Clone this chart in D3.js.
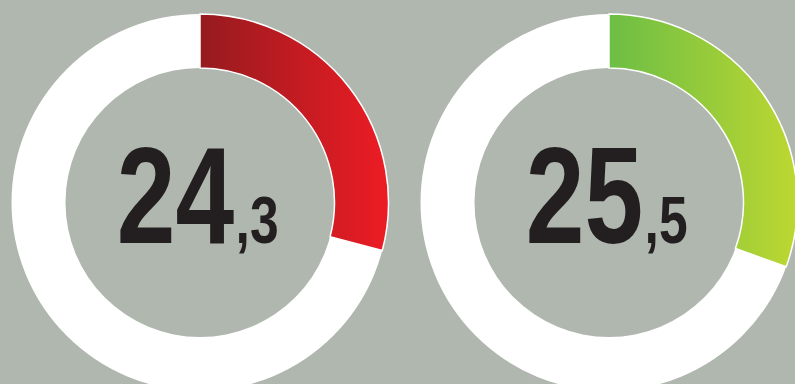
<!DOCTYPE html>
<html>
<head>
<meta charset="utf-8">
<script src="https://cdn.jsdelivr.net/npm/d3@7"></script>
<style>
  html, body { margin: 0; padding: 0; background: #b0b7af; }
  svg { display: block; }
</style>
</head>
<body>
<svg id="chart" width="795" height="384"></svg>
<script>
// values shown in the two rings
var values = [24.3, 25.5];
var intPart = ["24", "25"];
var decPart = [",3", ",5"];
var maxValue = 83.5;
var gradStart = ["#951b1f", "#6cbe45"];
var gradEnd = ["#ed1c24", "#bdd731"];

var width = 795, height = 384;
var svg = d3.select("#chart");

var centers = [200, 609];
var cy = 202.5;
var rOuter = 188.5, rInner = 134.5;

var angle = d3.scaleLinear()
    .domain([0, maxValue])
    .range([0, 2 * Math.PI]);

var arc = d3.arc()
    .innerRadius(rInner)
    .outerRadius(rOuter);

var defs = svg.append("defs");

values.forEach(function(v, i) {
    var g = svg.append("g")
        .attr("transform", "translate(" + centers[i] + "," + cy + ")");

    // gradient across the filled part
    var grad = defs.append("linearGradient")
        .attr("id", "grad" + i)
        .attr("gradientUnits", "userSpaceOnUse")
        .attr("x1", 0).attr("x2", rOuter)
        .attr("y1", 0).attr("y2", 0);
    grad.append("stop").attr("offset", "0%").attr("stop-color", gradStart[i]);
    grad.append("stop").attr("offset", "100%").attr("stop-color", gradEnd[i]);

    // white background ring
    g.append("path")
        .attr("d", arc({startAngle: 0, endAngle: 2 * Math.PI}))
        .attr("fill", "#ffffff");

    // value arc
    g.append("path")
        .attr("d", arc({startAngle: 0, endAngle: angle(v)}))
        .attr("fill", "url(#grad" + i + ")")
        .attr("stroke", "#ffffff")
        .attr("stroke-width", 1.5);

    // label, squeezed to look condensed
    var t = g.append("text")
        .attr("transform", "scale(0.77,1)")
        .attr("x", -3)
        .attr("y", 40)
        .attr("text-anchor", "middle")
        .style("font-family", "'Liberation Sans', Arial, sans-serif")
        .style("font-weight", 700)
        .attr("fill", "#231f20");
    t.append("tspan").style("font-size", "137px").text(intPart[i]);
    t.append("tspan").attr("dx", 2).style("font-size", "67px").text(decPart[i]);
});
</script>
</body>
</html>
